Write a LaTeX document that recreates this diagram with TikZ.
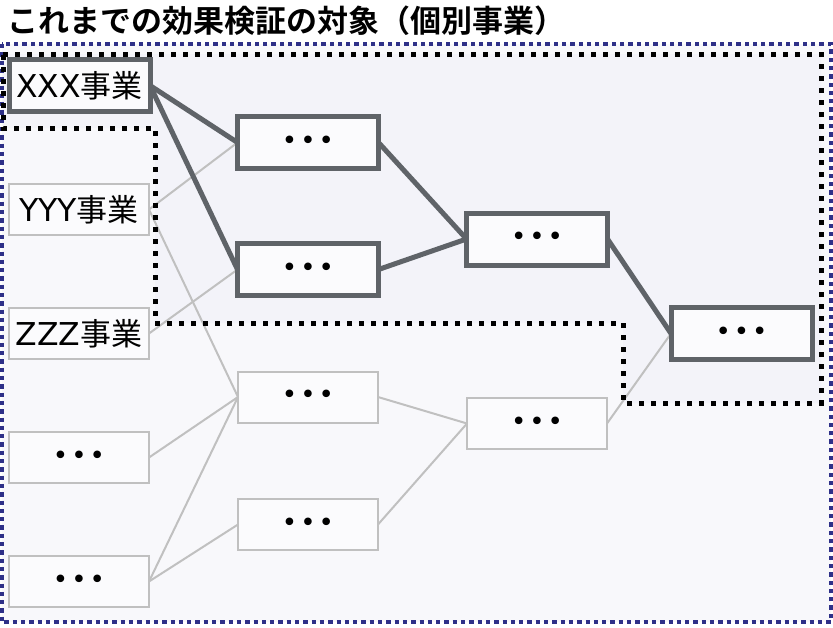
\documentclass[tikz,border=0pt]{standalone}
\usepackage{fontspec}
\newfontfamily\jp{Noto Sans CJK JP}
\newfontfamily\jpb{Noto Sans CJK JP Bold}
\newfontfamily\dv{DejaVu Sans}
\definecolor{thickc}{HTML}{5F6368}
\definecolor{thinc}{HTML}{C0C0C0}
\definecolor{navy}{HTML}{2E3088}
\definecolor{bgout}{HTML}{F8F8FB}
\definecolor{bgin}{HTML}{F3F3F9}
\definecolor{boxfill}{HTML}{FBFBFD}
\pgfdeclarelayer{bglayer}
\pgfdeclarelayer{edgelayer}
\pgfdeclarelayer{dotlayer}
\pgfsetlayers{bglayer,edgelayer,dotlayer,main}
\newcommand\dotstxt{{\dv\fontsize{26}{26}\selectfont •\hspace{3pt}•\hspace{3pt}•}}
\newcommand\jig[1]{{\dv\fontsize{31.5}{36}\selectfont #1}{\jp\fontsize{31}{36}\selectfont 事業}}
\tikzset{
  base/.style={rectangle, inner sep=0pt, outer sep=0pt, fill=boxfill, text=black},
  thickbox/.style={base, draw=thickc, line width=5pt, minimum width=141pt, minimum height=52pt},
  thinbox/.style={base, draw=thinc, line width=2pt, minimum width=140pt, minimum height=51pt},
  thickline/.style={draw=thickc, line width=5pt},
  thinline/.style={draw=thinc, line width=2pt},
}
\begin{document}
\begin{tikzpicture}[x=1pt,y=-1pt]
\useasboundingbox (0,0) rectangle (833,627);
% title
\node[anchor=west, inner sep=0pt] (title) at (7,21) {\jpb\fontsize{31}{36}\selectfont これまでの効果検証の対象（個別事業）};
% nodes
\node[thickbox] (xxx) at (79.5,85.5) {\jig{XXX}};
\node[thinbox] (yyy) at (79,209.5) {\jig{YYY}};
\node[thinbox] (zzz) at (79,333.5) {\jig{ZZZ}};
\node[thinbox] (l1) at (79,457.5) {\dotstxt};
\node[thinbox] (l2) at (79,581.5) {\dotstxt};
\node[thickbox] (a1) at (308,142.5) {\dotstxt};
\node[thickbox] (a2) at (308,269.5) {\dotstxt};
\node[thinbox] (b1) at (308,397) {\dotstxt};
\node[thinbox] (b2) at (308,524.5) {\dotstxt};
\node[thickbox] (c1) at (537,239) {\dotstxt};
\node[thinbox] (c2) at (537,423.5) {\dotstxt};
\node[thickbox] (d) at (741.5,333.5) {\dotstxt};
\begin{pgfonlayer}{bglayer}
\fill[bgout] (1.5,44) rectangle (830.5,622);
\fill[bgin] (3,54) -- (821,54) -- (821,403) -- (623,403) -- (623,323) -- (155,323) -- (155,128) -- (3,128) -- cycle;
\end{pgfonlayer}
\begin{pgfonlayer}{edgelayer}
\draw[thinline] (yyy.east) -- (a1.west);
\draw[thinline] (yyy.east) -- (b1.west);
\draw[thinline] (zzz.east) -- (a2.west);
\draw[thinline] (l1.east) -- (b1.west);
\draw[thinline] (l2.east) -- (b1.west);
\draw[thinline] (l2.east) -- (b2.west);
\draw[thinline] (b1.east) -- (c2.west);
\draw[thinline] (b2.east) -- (c2.west);
\draw[thinline] (c2.east) -- (d.west);
\draw[thickline] (xxx.east) -- (a1.west);
\draw[thickline] (xxx.east) -- (a2.west);
\draw[thickline] (a1.east) -- (c1.west);
\draw[thickline] (a2.east) -- (c1.west);
\draw[thickline] (c1.east) -- (d.west);
\end{pgfonlayer}
\begin{pgfonlayer}{dotlayer}
\draw[navy, line width=4pt, dash pattern=on 4.3pt off 4pt] (1.5,44) rectangle (830.5,622);
\draw[black, line width=5pt, dash pattern=on 5pt off 7pt] (3,54) -- (821,54) -- (821,403) -- (623,403) -- (623,323) -- (155,323) -- (155,128) -- (3,128) -- cycle;
\end{pgfonlayer}
\end{tikzpicture}
\end{document}
